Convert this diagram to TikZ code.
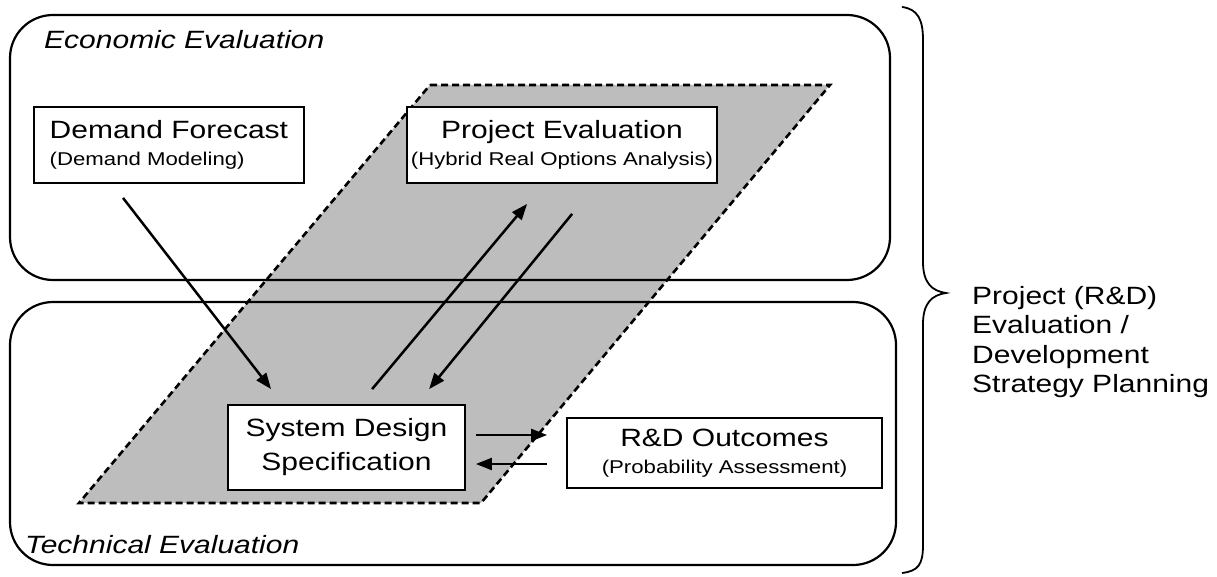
\documentclass[tikz,border=0pt]{standalone}
\usepackage{fontspec}
\setmainfont{Liberation Sans}[FakeStretch=1.2]
\usetikzlibrary{calc,arrows.meta}
\newcommand{\subline}{\fontsize{18.5}{22}\selectfont}
\begin{document}
\begin{tikzpicture}[x=1pt,y=-1pt,
  zone/.style={draw=black,line width=2.2pt,rounded corners=43pt},
  band/.style={draw=black,line width=2.6pt,dash pattern=on 7pt off 4pt,fill=gray!52},
  card/.style={draw=black,line width=1.8pt,fill=white,inner sep=0pt,font=\fontsize{25}{27}\selectfont},
  arr/.style={line width=2.5pt,-{Triangle[length=16pt,width=12pt]}},
  zonelabel/.style={font=\fontsize{25}{30}\selectfont\itshape,anchor=west,inner sep=0pt}
]
\useasboundingbox (0,0) rectangle (1217,577);

% shaded strategy band
\draw[band] (430,85) -- (830,85) -- (481,503) -- (79,503) -- cycle;

% economic and technical zones
\draw[zone] (10,15) rectangle (890,280);
\draw[zone] (10,302) rectangle (896,565);
\node[zonelabel] (econ) at (44,40) {Economic Evaluation};
\node[zonelabel] (tech) at (25,545) {Technical Evaluation};

% model boxes
\node[card,anchor=west,minimum width=270pt,minimum height=76pt,inner xsep=15pt,align=left] (df) at (33,145)
  {Demand Forecast\\\subline (Demand Modeling)};
\node[card,minimum width=310pt,minimum height=76pt,align=center] (pe) at (562,145)
  {Project Evaluation\\\subline (Hybrid Real Options Analysis)};
\node[card,minimum width=237pt,minimum height=85pt,align=center,font=\fontsize{25}{34}\selectfont] (sd) at (346.5,447.5)
  {System Design\\Specification};
\node[card,minimum width=315pt,minimum height=70pt,align=center] (rd) at (724.5,453)
  {R\&D Outcomes\\\subline (Probability Assessment)};

% connector end points
\coordinate (dfout) at ($(df.south west)+(90,14)$);
\coordinate (sdin1) at ($(sd.north west)+(44,-15)$);
\coordinate (sdout) at ($(sd.north west)+(145,-15)$);
\coordinate (pein)  at ($(pe.south west)+(121,20)$);
\coordinate (peout) at ($(pe.south west)+(166,30)$);
\coordinate (sdin2) at ($(sd.north west)+(202,-15)$);
\coordinate (sdr1) at ($(sd.east)+(10,-12.5)$);
\coordinate (rdl1) at ($(rd.west)+(-19,-18)$);
\coordinate (rdl2) at ($(rd.west)+(-19,11)$);
\coordinate (sdr2) at ($(sd.east)+(10,16.5)$);

\draw[arr] (dfout) -- (sdin1);
\draw[arr] (sdout) -- (pein);
\draw[arr] (peout) -- (sdin2);
\draw[arr] (sdr1) -- (rdl1);
\draw[arr] (rdl2) -- (sdr2);

% brace gathering both zones
\draw[line width=1.8pt] (902,7) .. controls (918,9) and (923,20) .. (923,40)
  -- (923,262) .. controls (923,283) and (932,291) .. (946,293)
  .. controls (932,295) and (923,303) .. (923,324)
  -- (923,545) .. controls (923,565) and (918,571) .. (902,573);

\node[anchor=west,inner sep=0pt,align=left,font=\fontsize{25}{29.5}\selectfont] (goal) at (972,342)
  {Project (R\&D)\\Evaluation /\\Development\\Strategy Planning};
\end{tikzpicture}
\end{document}
